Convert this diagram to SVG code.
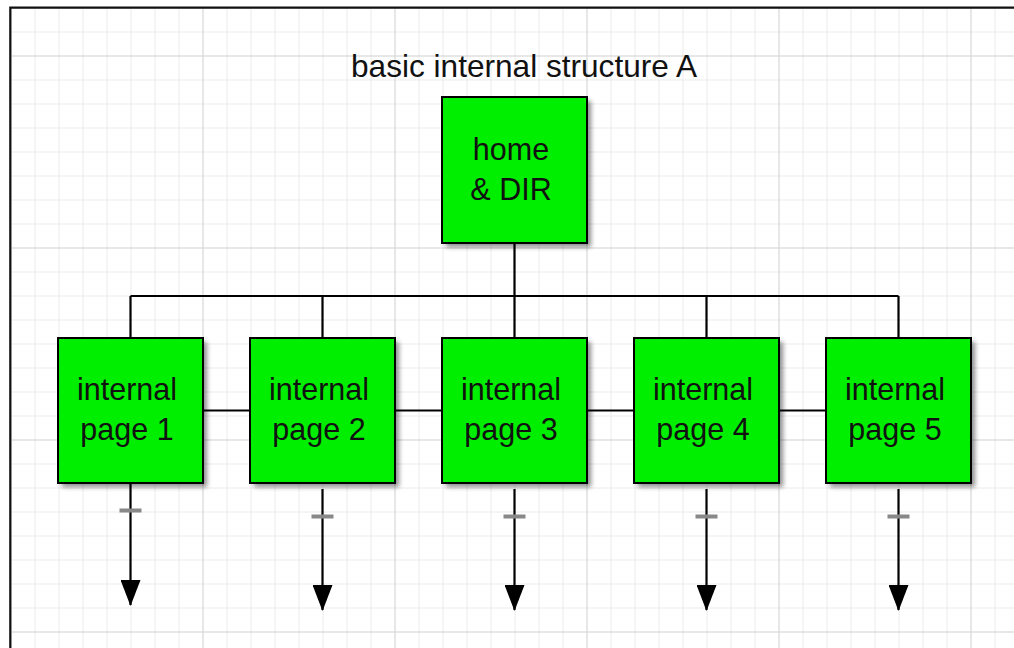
<svg xmlns="http://www.w3.org/2000/svg" width="1014" height="648" viewBox="0 0 1014 648">
<defs>
<pattern id="minor" x="10.5" y="7.5" width="24" height="24" patternUnits="userSpaceOnUse">
<path d="M0 0H24M0 0V24" fill="none" stroke="#ebebeb" stroke-width="2"/>
</pattern>
<pattern id="major" x="10.5" y="55.5" width="192" height="192" patternUnits="userSpaceOnUse">
<path d="M0 0H192M0 0V192" fill="none" stroke="#d8d8d8" stroke-width="2"/>
</pattern>
<filter id="sh" x="-20%" y="-20%" width="140%" height="140%">
<feGaussianBlur stdDeviation="2.5"/>
</filter>
<marker id="ah" viewBox="0 0 26 20" refX="25" refY="10" markerWidth="26" markerHeight="20" markerUnits="userSpaceOnUse" orient="auto">
<path d="M0 0L26 10L0 20Z" fill="#000"/>
</marker>
</defs>
<style>
.box{fill:#00ee00;stroke:#000;stroke-width:2}
.shadow{fill:#000;opacity:0.45;filter:url(#sh)}
.lbl{font-family:"Liberation Sans",Arial,sans-serif;font-size:30.5px;fill:#111;text-anchor:middle}
.title{font-family:"Liberation Sans",Arial,sans-serif;font-size:31.6px;fill:#111;text-anchor:middle}
.ln{fill:none;stroke:#000;stroke-width:2.2}
.dash{fill:#888}
</style>
<rect x="0" y="0" width="1014" height="648" fill="#fff"/>
<rect x="10" y="7" width="1004" height="641" fill="url(#minor)"/>
<rect x="10" y="7" width="1004" height="641" fill="url(#major)"/>
<path d="M10.3 648V7.7H1014" fill="none" stroke="#111" stroke-width="2.2"/>
<text class="title" x="524" y="77">basic internal structure A</text>
<g id="connectors">
<path class="ln" d="M514.5 243V296M130.5 296H898.5M130.5 296V338M322.5 296V338M514.5 296V338M706.5 296V338M898.5 296V338"/>
<path class="ln" d="M203 410.5H250M395 410.5H442M587 410.5H634M779 410.5H826"/>
<line class="ln" x1="130.5" y1="484" x2="130.5" y2="605" marker-end="url(#ah)"/>
<line class="ln" x1="322.5" y1="489" x2="322.5" y2="610" marker-end="url(#ah)"/>
<line class="ln" x1="514.5" y1="489" x2="514.5" y2="610" marker-end="url(#ah)"/>
<line class="ln" x1="706.5" y1="489" x2="706.5" y2="610" marker-end="url(#ah)"/>
<line class="ln" x1="898.5" y1="489" x2="898.5" y2="610" marker-end="url(#ah)"/>
<rect class="dash" x="119.5" y="508.5" width="22" height="4"/>
<rect class="dash" x="311.5" y="514.5" width="22" height="4"/>
<rect class="dash" x="503.5" y="514.5" width="22" height="4"/>
<rect class="dash" x="695.5" y="514.5" width="22" height="4"/>
<rect class="dash" x="887.5" y="514.5" width="22" height="4"/>
</g>
<g id="home">
<rect class="shadow" x="446" y="101" width="145" height="146"/>
<rect class="box" x="442" y="97" width="145" height="146"/>
<text class="lbl" x="511" y="160">home</text>
<text class="lbl" x="511" y="200">&amp; DIR</text>
</g>
<g id="page1">
<rect class="shadow" x="62" y="342" width="145" height="145"/>
<rect class="box" x="58" y="338" width="145" height="145"/>
<text class="lbl" x="127" y="400">internal</text>
<text class="lbl" x="127" y="440">page 1</text>
</g>
<g id="page2">
<rect class="shadow" x="254" y="342" width="145" height="145"/>
<rect class="box" x="250" y="338" width="145" height="145"/>
<text class="lbl" x="319" y="400">internal</text>
<text class="lbl" x="319" y="440">page 2</text>
</g>
<g id="page3">
<rect class="shadow" x="446" y="342" width="145" height="145"/>
<rect class="box" x="442" y="338" width="145" height="145"/>
<text class="lbl" x="511" y="400">internal</text>
<text class="lbl" x="511" y="440">page 3</text>
</g>
<g id="page4">
<rect class="shadow" x="638" y="342" width="145" height="145"/>
<rect class="box" x="634" y="338" width="145" height="145"/>
<text class="lbl" x="703" y="400">internal</text>
<text class="lbl" x="703" y="440">page 4</text>
</g>
<g id="page5">
<rect class="shadow" x="830" y="342" width="145" height="145"/>
<rect class="box" x="826" y="338" width="145" height="145"/>
<text class="lbl" x="895" y="400">internal</text>
<text class="lbl" x="895" y="440">page 5</text>
</g>
</svg>
